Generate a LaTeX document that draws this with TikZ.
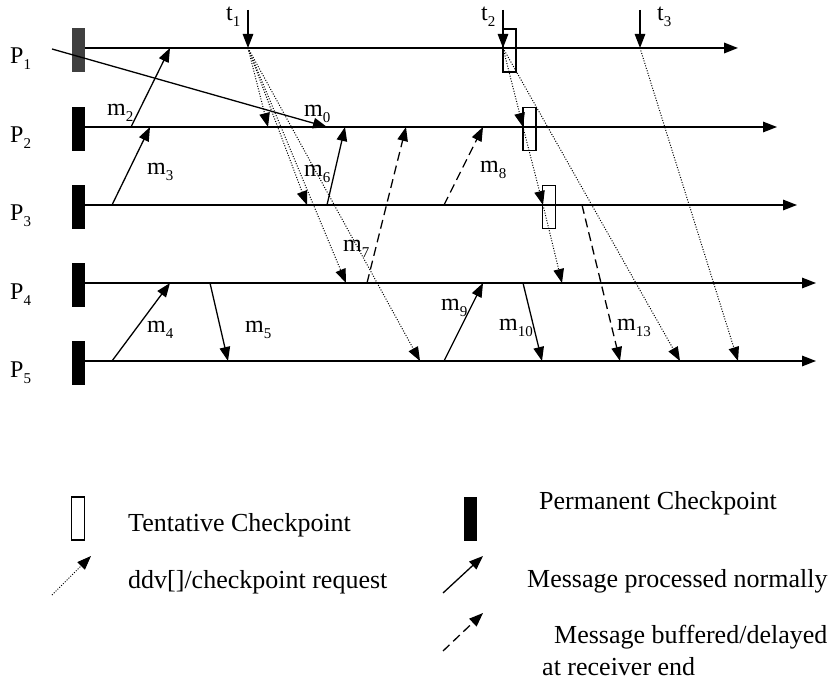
\documentclass[tikz,border=0pt]{standalone}
\usepackage{fontspec}
\setmainfont{Liberation Serif}
\usetikzlibrary{arrows.meta}
\newcommand\sbs[1]{\raisebox{-0.25em}{\fontsize{15}{15}\selectfont #1}}
\begin{document}
\begin{tikzpicture}[x=1pt,y=-1pt,
  tip/.style={-{Triangle[length=14pt,width=10.5pt]}},
  timeline/.style={line width=1.5pt,tip},
  proc/.style={line width=1.3pt,tip},
  buf/.style={line width=1.3pt,dash pattern=on 9pt off 5pt,tip},
  req/.style={line width=1pt,dash pattern=on 1pt off 1.6pt,tip},
  perm/.style={fill=black,draw=none,minimum width=13pt,minimum height=44pt,inner sep=0pt},
  tent/.style={draw=black,line width=1.1pt,minimum width=13pt,minimum height=43pt,inner sep=0pt},
  lbl/.style={anchor=base west,inner sep=0pt,font=\fontsize{24}{28}\selectfont},
  leg/.style={anchor=base west,inner sep=0pt,font=\fontsize{26}{30}\selectfont}]
\useasboundingbox (0,0) rectangle (829,684);

% process labels
\node[lbl] (L1) at (10,64) {P\sbs{1}};
\node[lbl] (L2) at (10,143) {P\sbs{2}};
\node[lbl] (L3) at (10,221) {P\sbs{3}};
\node[lbl] (L4) at (10,299) {P\sbs{4}};
\node[lbl] (L5) at (10,377) {P\sbs{5}};

% permanent checkpoints
\node[perm,fill=black!75] (C1) at (78.5,50.5) {};
\node[perm] (C2) at (78.5,129) {};
\node[perm] (C3) at (78.5,207) {};
\node[perm] (C4) at (78.5,285) {};
\node[perm] (C5) at (78.5,363) {};

% timelines
\coordinate (S1) at (85,48);  \coordinate (E1) at (738,48);
\coordinate (S2) at (85,127); \coordinate (E2) at (777,127);
\coordinate (S3) at (85,205); \coordinate (E3) at (797,205);
\coordinate (S4) at (85,283); \coordinate (E4) at (816,283);
\coordinate (S5) at (85,361); \coordinate (E5) at (816,361);
\draw[timeline,line width=1.8pt] (S1) -- (E1);
\draw[timeline] (S2) -- (E2);
\draw[timeline] (S3) -- (E3);
\draw[timeline] (S4) -- (E4);
\draw[timeline] (S5) -- (E5);

% tentative checkpoints
\node[tent] (T1) at (509.5,50.5) {};
\node[tent] (T2) at (529.5,129) {};
\node[tent] (T3) at (549,207) {};

% checkpoint initiations
\coordinate (t1top) at (248,10); \coordinate (t1) at (248,48);
\coordinate (t2top) at (503,10); \coordinate (t2) at (503,48);
\coordinate (t3top) at (640,10); \coordinate (t3) at (640,48);
\draw[proc] (t1top) -- (t1);
\draw[proc] (t2top) -- (t2);
\draw[proc] (t3top) -- (t3);
\node[lbl] (lt1) at (226,21) {t\sbs{1}};
\node[lbl] (lt2) at (481,21) {t\sbs{2}};
\node[lbl] (lt3) at (657,21) {t\sbs{3}};

% ddv / checkpoint requests
\coordinate (r12) at (268,127);
\coordinate (r13) at (307,205);
\coordinate (r14) at (346,283);
\coordinate (r15) at (420,361);
\draw[req] (t1) -- (r12);
\draw[req] (t1) -- (r13);
\draw[req] (t1) -- (r14);
\draw[req] (t1) -- (r15);
\coordinate (q2) at (523,127);
\coordinate (q3) at (543,205);
\coordinate (q4) at (562,283);
\coordinate (q5) at (680,361);
\draw[req] (t2) -- (q2);
\draw[req] (q2) -- (q3);
\draw[req] (q3) -- (q4);
\draw[req] (t2) -- (q5);
\coordinate (q6) at (738,361);
\draw[req] (t3) -- (q6);

% messages
\coordinate (m0s) at (52,49);   \coordinate (m0r) at (327,127);
\coordinate (m2s) at (131,127); \coordinate (m2r) at (170,48);
\coordinate (m3s) at (112,205); \coordinate (m3r) at (150,127);
\coordinate (m4s) at (112,361); \coordinate (m4r) at (170,283);
\coordinate (m5s) at (210,283); \coordinate (m5r) at (228,361);
\coordinate (m6s) at (327,205); \coordinate (m6r) at (345,127);
\coordinate (m7s) at (367,283); \coordinate (m7r) at (406,127);
\coordinate (m8s) at (444,205); \coordinate (m8r) at (483,127);
\coordinate (m9s) at (444,361); \coordinate (m9r) at (483,283);
\coordinate (m10s) at (523,283); \coordinate (m10r) at (542,361);
\coordinate (m13s) at (582,205); \coordinate (m13r) at (620,361);
\draw[proc] (m0s) -- (m0r);
\draw[proc] (m2s) -- (m2r);
\draw[proc] (m3s) -- (m3r);
\draw[proc] (m4s) -- (m4r);
\draw[proc] (m5s) -- (m5r);
\draw[proc] (m6s) -- (m6r);
\draw[buf] (m7s) -- (m7r);
\draw[buf] (m8s) -- (m8r);
\draw[proc] (m9s) -- (m9r);
\draw[proc] (m10s) -- (m10r);
\draw[buf] (m13s) -- (m13r);

\node[lbl] (lm0) at (304,117) {m\sbs{0}};
\node[lbl] (lm2) at (107,116) {m\sbs{2}};
\node[lbl] (lm3) at (147,175) {m\sbs{3}};
\node[lbl] (lm4) at (147,332) {m\sbs{4}};
\node[lbl] (lm5) at (245,332) {m\sbs{5}};
\node[lbl] (lm6) at (304,177) {m\sbs{6}};
\node[lbl] (lm7) at (343,252) {m\sbs{7}};
\node[lbl] (lm8) at (480,173) {m\sbs{8}};
\node[lbl] (lm9) at (441,310) {m\sbs{9}};
\node[lbl] (lm10) at (499,330) {m\sbs{10}};
\node[lbl] (lm13) at (617,330) {m\sbs{13}};

% legend
\node[tent] (LT) at (78,518.5) {};
\node[leg] (LTt) at (128,531) {Tentative Checkpoint};
\node[perm] (LP) at (470.5,518.5) {};
\node[leg] (LPt) at (539,509) {Permanent Checkpoint};
\coordinate (a1s) at (52,595); \coordinate (a1e) at (91,556);
\draw[req] (a1s) -- (a1e);
\node[leg] (La1) at (128,588) {ddv[]/checkpoint request};
\coordinate (a2s) at (443,593); \coordinate (a2e) at (483,556);
\draw[proc] (a2s) -- (a2e);
\node[leg] (La2) at (527,587) {Message processed normally};
\coordinate (a3s) at (443,651); \coordinate (a3e) at (483,613);
\draw[buf] (a3s) -- (a3e);
\node[leg] (La3) at (554,643) {Message buffered/delayed};
\node[leg] (La4) at (542,675) {at receiver end};
\end{tikzpicture}
\end{document}
